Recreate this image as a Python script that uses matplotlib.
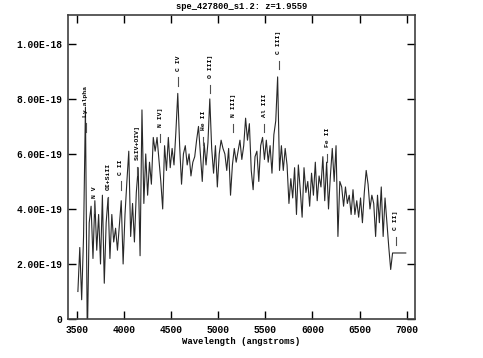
import numpy as np
import matplotlib
matplotlib.use("Agg")
import matplotlib.pyplot as plt
from matplotlib.ticker import FixedLocator, FuncFormatter

title = "spe_427800_s1.2: z=1.9559"

# observed wavelength grid (angstroms), 20 A steps
wave = np.arange(3510, 7000, 20)

# flux in units of 1e-19, one chunk per 500 A
flux_3500 = [1.0, 2.6, 0.7, 3.0, 7.7, -0.8, 3.5, 4.1, 2.2, 4.3, 2.5, 3.8, 2.0,
             4.5, 1.3, 3.5, 4.4, 2.2, 3.8, 2.8, 3.3, 2.5, 3.4, 4.3, 2.0]
flux_4000 = [3.8, 5.0, 6.1, 3.0, 4.2, 2.8, 4.6, 5.5, 2.3, 7.6, 4.2, 6.0, 4.5,
             5.7, 4.9, 6.6, 6.1, 6.6, 5.8, 5.0, 4.0, 6.3, 5.4, 6.6, 5.5]
flux_4500 = [6.2, 5.6, 6.8, 8.2, 6.3, 4.9, 6.0, 6.3, 5.6, 6.0, 5.2, 5.7, 5.9,
             6.5, 7.0, 6.0, 5.0, 6.4, 5.6, 6.4, 8.0, 6.2, 5.3, 6.3, 4.8]
flux_5000 = [6.0, 6.5, 6.2, 6.0, 5.4, 6.2, 4.5, 5.6, 6.2, 5.7, 6.1, 6.5, 5.8,
             6.3, 7.3, 6.5, 7.1, 5.4, 4.7, 5.9, 6.1, 5.0, 6.3, 6.6, 5.8]
flux_5500 = [6.5, 5.7, 6.3, 5.3, 6.7, 7.2, 8.8, 5.4, 6.3, 5.4, 6.2, 5.6, 4.2,
             5.1, 4.4, 5.5, 3.8, 5.6, 4.7, 3.7, 5.5, 4.6, 5.0, 4.1, 5.3]
flux_6000 = [4.5, 5.7, 4.3, 5.2, 4.8, 5.9, 4.3, 5.7, 4.0, 5.2, 6.2, 5.0, 6.3,
             3.0, 5.0, 4.8, 4.1, 4.8, 4.2, 4.5, 3.8, 4.7, 3.8, 4.3, 3.7]
flux_6500 = [4.4, 3.5, 4.6, 5.4, 4.9, 4.0, 4.5, 4.2, 3.0, 4.5, 3.5, 4.8, 3.0,
             4.4, 3.5, 2.6, 1.8, 2.4, 2.4, 2.4, 2.4, 2.4, 2.4, 2.4, 2.4]
flux = np.array(flux_3500 + flux_4000 + flux_4500 + flux_5000
                + flux_5500 + flux_6000 + flux_6500) * 1e-19

# emission line labels: observed wavelength and height of label base (1e-19)
line_names = ["Ly alpha", "N V", "OI+SiII", "C II", "SiIV+OIV]", "N IV]",
              "C IV", "He II", "O III]", "N III]", "Al III", "C III]",
              "Fe II", "C II]"]
line_waves = [3594, 3685, 3830, 3967, 4137, 4384, 4575, 4840, 4914, 5158,
              5487, 5641, 6155, 6882]
label_base = [7.36, 4.41, 4.70, 5.25, 5.79, 6.99, 9.03, 6.88, 8.77, 7.35,
              7.35, 9.64, 6.26, 3.24]

xticks = [3500, 4000, 4500, 5000, 5500, 6000, 6500, 7000]
yticks = [0, 2e-19, 4e-19, 6e-19, 8e-19, 1e-18]

fnt = "Liberation Mono"

fig = plt.figure(figsize=(4.83, 3.58), dpi=100)
ax = fig.add_axes([0.1408, 0.1089, 0.7184, 0.8492])

ax.plot(wave, flux, color="#282828", lw=0.8)

for name, w, b in zip(line_names, line_waves, label_base):
    ax.text(w, b * 1e-19, name, rotation=90, ha="center", va="bottom",
            fontsize=4.6, fontweight="bold", family=fnt)
    ax.plot([w, w], [(b - 0.55) * 1e-19, (b - 0.25) * 1e-19],
            color="#505050", lw=0.8)

ax.set_xlim(3405, 7088)
ax.set_ylim(0, 1.105e-18)

ax.xaxis.set_major_locator(FixedLocator(xticks))
ax.yaxis.set_major_locator(FixedLocator(yticks))


def yfmt(v, pos):
    if v == 0:
        return "0"
    m, e = ("%.2E" % v).split("E")
    return m + "E" + str(int(e))


ax.yaxis.set_major_formatter(FuncFormatter(yfmt))
ax.tick_params(direction="in", length=6, width=1, top=True, right=True,
               labelsize=6.9, pad=4)
for lab in ax.get_xticklabels() + ax.get_yticklabels():
    lab.set_family(fnt)
    lab.set_fontweight("bold")
for sp in ax.spines.values():
    sp.set_linewidth(1.2)
    sp.set_color("#404040")

ax.set_xlabel("Wavelength (angstroms)", family=fnt, fontweight="bold",
              fontsize=6.4, labelpad=2)
ax.set_title(title, family=fnt, fontweight="bold", fontsize=6.3, pad=4)

fig.savefig("out.png", dpi=100)
